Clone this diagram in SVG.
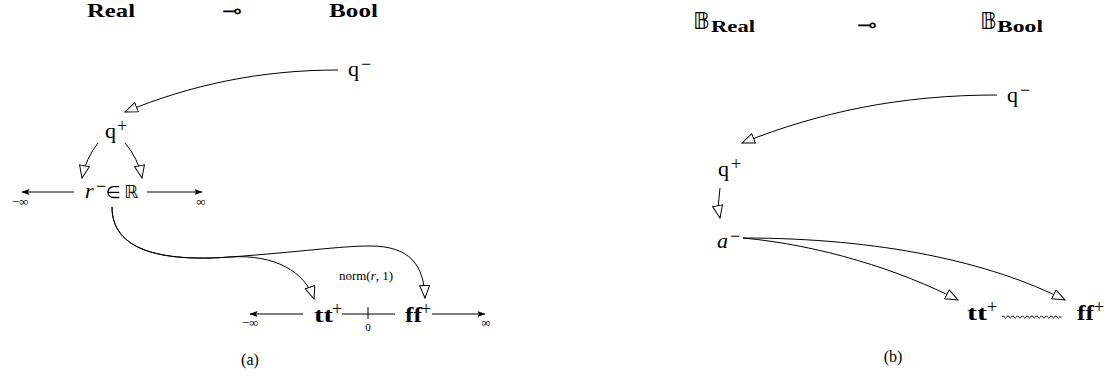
<svg xmlns="http://www.w3.org/2000/svg" width="1115" height="385" viewBox="0 0 1115 385">
<style>
text{font-family:"Liberation Serif","DejaVu Serif",serif;fill:#000}
.b{font-weight:bold}
.i{font-style:italic}
.m{font-family:"DejaVu Sans","DejaVu Serif",sans-serif}
.lol{font-family:"DejaVu Sans",sans-serif;font-size:21px}
.big{font-size:22px}
.sup{font-size:18px}
.sm{font-size:13px}
.c{stroke:#000;stroke-width:1;fill:none}
.oa{marker-end:url(#open)}
.fa{marker-end:url(#fill)}
</style>
<defs>
<marker id="open" viewBox="0 0 14 11" refX="13" refY="5.5" markerWidth="14" markerHeight="11" markerUnits="userSpaceOnUse" orient="auto">
<path d="M0.5,0.5 L13,5.5 L0.5,10.5 z" fill="#fff" stroke="#000" stroke-width="1"/>
</marker>
<marker id="fill" viewBox="0 0 8 6" refX="7.5" refY="3" markerWidth="8" markerHeight="6" markerUnits="userSpaceOnUse" orient="auto">
<path d="M0,0 L8,3 L0,6 L1.5,3 z" fill="#000"/>
</marker>
</defs>

<!-- Panel (a) -->
<g id="a-header">
<text x="87" y="17" class="b" font-size="19" textLength="48" lengthAdjust="spacingAndGlyphs">Real</text>
<text x="222" y="18" class="lol" textLength="20" lengthAdjust="spacingAndGlyphs">⊸</text>
<text x="329" y="17" class="b" font-size="19" textLength="49" lengthAdjust="spacingAndGlyphs">Bool</text>
</g>
<g id="a-qminus">
<text x="348" y="76" class="big">q</text>
<text x="361" y="70" class="sup">−</text>
</g>
<g id="a-qplus">
<text x="105" y="138" class="big">q</text>
<text x="117" y="132" class="sup">+</text>
</g>
<g id="a-r">
<text x="85" y="198" class="big i">r</text>
<text x="96" y="192" class="sup">−</text>
<text x="106" y="198" class="m" font-size="17">∈</text>
<text x="124" y="198" class="m" font-size="18">ℝ</text>
</g>
<g id="a-rlimits">
<text x="20" y="206" class="sm" text-anchor="middle">−∞</text>
<text x="201" y="206" class="sm" text-anchor="middle">∞</text>
</g>
<g id="a-tt">
<text x="314" y="322" class="b" font-size="21" textLength="19" lengthAdjust="spacingAndGlyphs">tt</text>
<text x="332" y="315" class="sup">+</text>
</g>
<g id="a-ff">
<text x="405" y="322" class="b" font-size="21" textLength="17" lengthAdjust="spacingAndGlyphs">ff</text>
<text x="421" y="315" class="sup">+</text>
</g>
<g id="a-axis-labels">
<text x="250" y="327" class="sm" text-anchor="middle">−∞</text>
<text x="486" y="327" class="sm" text-anchor="middle">∞</text>
<text x="368" y="331" font-size="11" text-anchor="middle">0</text>
<text x="366" y="280" font-size="13" text-anchor="middle">norm(<tspan class="i">r</tspan>, 1)</text>
</g>
<text id="a-caption" x="250" y="365" font-size="16" text-anchor="middle">(a)</text>

<!-- Panel (b) -->
<g id="b-header">
<text x="693" y="29" class="m" font-size="23">𝔹</text>
<text x="711" y="32" class="b" font-size="17" textLength="44" lengthAdjust="spacingAndGlyphs">Real</text>
<text x="857" y="32" class="lol" textLength="20" lengthAdjust="spacingAndGlyphs">⊸</text>
<text x="980" y="29" class="m" font-size="23">𝔹</text>
<text x="997" y="32" class="b" font-size="17" textLength="46" lengthAdjust="spacingAndGlyphs">Bool</text>
</g>
<g id="b-qminus">
<text x="1007" y="102" class="big">q</text>
<text x="1020" y="96" class="sup">−</text>
</g>
<g id="b-qplus">
<text x="718" y="176" class="big">q</text>
<text x="731" y="170" class="sup">+</text>
</g>
<g id="b-a">
<text x="717" y="248" class="big i">a</text>
<text x="730" y="242" class="sup">−</text>
</g>
<g id="b-tt">
<text x="967" y="320" class="b" font-size="21" textLength="20" lengthAdjust="spacingAndGlyphs">tt</text>
<text x="987" y="313" class="sup">+</text>
</g>
<g id="b-ff">
<text x="1077" y="320" class="b" font-size="21" textLength="17" lengthAdjust="spacingAndGlyphs">ff</text>
<text x="1094" y="313" class="sup">+</text>
</g>
<text id="b-caption" x="893" y="362" font-size="16" text-anchor="middle">(b)</text>

<!-- Connectors -->
<g id="connectors">
<path class="c oa" d="M338,70 C260,70 190,85 125,112"/>
<path class="c oa" d="M98,143 Q86,158 82,178"/>
<path class="c oa" d="M125,143 Q138,158 142,178"/>
<path class="c fa" d="M74,192 L22,192"/>
<path class="c fa" d="M147,192 L202,192"/>
<path class="c oa" d="M112,207 C112,250 160,262 230,257 C300,252 340,246 370,246 C410,246 424,265 425,298"/>
<path class="c oa" d="M112,207 C112,250 160,262 230,257 C275,254 305,272 314,299"/>
<path class="c fa" d="M303,314 L250,314"/>
<path class="c" d="M342,314 L395,314 M368,307 L368,319"/>
<path class="c fa" d="M432,314 L485,314"/>

<path class="c oa" d="M997,95 C900,95 820,112 742,143"/>
<path class="c oa" d="M720,188 Q717,203 720,218"/>
<path class="c oa" d="M743,238 C880,238 990,262 1065,300"/>
<path class="c oa" d="M743,238 C820,245 900,270 958,300"/>
<path class="c" stroke-width="0.9" d="M1002,317 q1.2,-2.4 2.4,0 t2.4,0 t2.4,0 t2.4,0 t2.4,0 t2.4,0 t2.4,0 t2.4,0 t2.4,0 t2.4,0 t2.4,0 t2.4,0 t2.4,0 t2.4,0 t2.4,0 t2.4,0 t2.4,0 t2.4,0 t2.4,0 t2.4,0 t2.4,0 t2.4,0 t2.4,0 t2.4,0 l2,0"/>
</g>
</svg>
